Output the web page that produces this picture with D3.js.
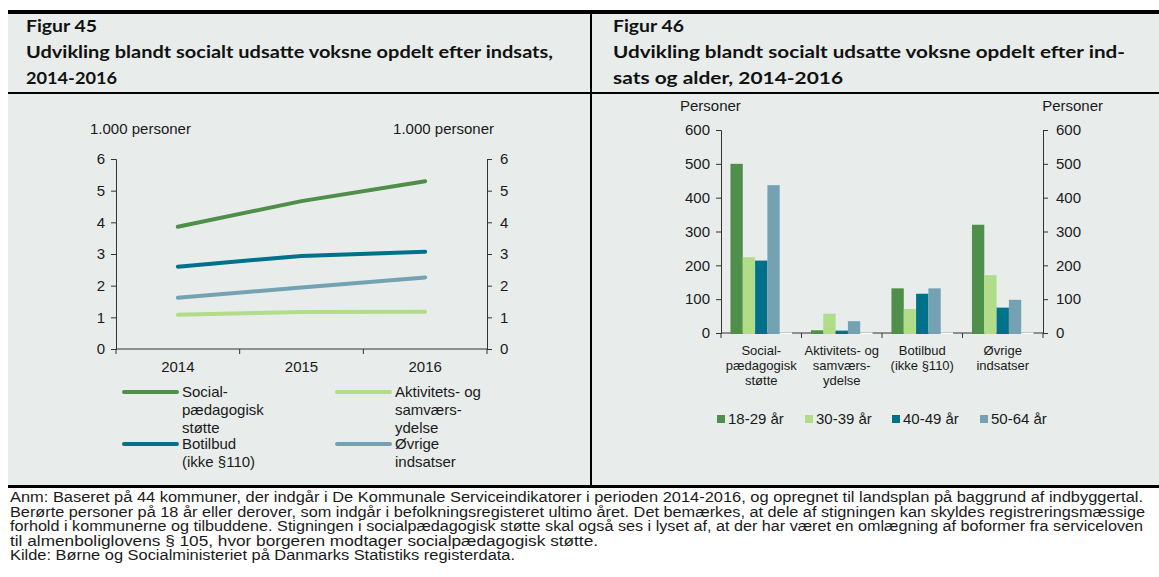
<!DOCTYPE html>
<html>
<head>
<meta charset="utf-8">
<script src="https://cdn.jsdelivr.net/npm/d3@7"></script>
<style>
  html, body { margin: 0; padding: 0; background: #fff; }
  svg { display: block; }
  .tick text, .lbl { font-family: "Liberation Sans", Arial, sans-serif; fill: #1a1a1a; }
  .ttl { font-family: Lato, "Open Sans", sans-serif; font-weight: 700; fill: #111; }
</style>
</head>
<body>
<svg id="c" width="1159" height="577"></svg>
<script>
// ---- Figur 45: persons (1.000) by type of support, 2014-2016
const years = ["2014", "2015", "2016"];
const lineNames = [["Social-", "pædagogisk", "støtte"], ["Aktivitets- og", "samværs-", "ydelse"], ["Botilbud", "(ikke §110)"], ["Øvrige", "indsatser"]];
const socialpaedagogisk = [3.86, 4.67, 5.30];
const aktivitetSamvaer = [1.08, 1.17, 1.18];
const botilbud = [2.60, 2.94, 3.07];
const oevrigeIndsatser = [1.62, 1.94, 2.26];
const leftTicks = [0, 1, 2, 3, 4, 5, 6];

// ---- Figur 46: persons by type of support and age
const categories = [["Social-", "pædagogisk", "støtte"], ["Aktivitets- og", "samværs-", "ydelse"], ["Botilbud", "(ikke §110)"], ["Øvrige", "indsatser"]];
const ageGroups = ["18-29 år", "30-39 år", "40-49 år", "50-64 år"];
const age18to29 = [500, 8, 132, 320];
const age30to39 = [224, 57, 71, 171];
const age40to49 = [214, 7, 116, 75];
const age50to64 = [437, 35, 132, 98];
const barTicks = [0, 100, 200, 300, 400, 500, 600];

const colors = ["#4f8e4b", "#b1dc88", "#00718a", "#74a2b3"];
const axisColor = "#333";

const svg = d3.select("#c");

// panel background and frame
svg.append("rect").attr("x", 8).attr("y", 12).attr("width", 1151).attr("height", 475).attr("fill", "#e8edeb");
svg.append("rect").attr("x", 8).attr("y", 10).attr("width", 1151).attr("height", 4).attr("fill", "#000");
svg.append("rect").attr("x", 8).attr("y", 92).attr("width", 1151).attr("height", 2).attr("fill", "#000");
svg.append("rect").attr("x", 8).attr("y", 485).attr("width", 1151).attr("height", 3).attr("fill", "#000");
svg.append("rect").attr("x", 590).attr("y", 12).attr("width", 2).attr("height", 475).attr("fill", "#000");

// titles
function title(x, lines, widths) {
  lines.forEach((t, i) => {
    svg.append("text").attr("class", "ttl").attr("x", x).attr("y", 32 + i * 26)
      .style("font-size", "17px").attr("textLength", widths[i]).attr("lengthAdjust", "spacingAndGlyphs").text(t);
  });
}
title(26, ["Figur 45", "Udvikling blandt socialt udsatte voksne opdelt efter indsats,", "2014-2016"], [71, 527, 91]);
title(613, ["Figur 46", "Udvikling blandt socialt udsatte voksne opdelt efter ind-", "sats og alder, 2014-2016"], [71, 512, 230]);

// ===== line chart =====
const x = d3.scaleBand().domain(years).range([116, 487]);
const y = d3.scaleLinear().domain([0, 6]).range([349, 159]);
const intFmt = d3.format("d");

function styleAxis(g) {
  g.select(".domain").attr("stroke", axisColor);
  g.selectAll(".tick line").attr("stroke", axisColor);
  g.selectAll(".tick text").style("font-size", "15px");
}

svg.append("g").attr("transform", "translate(116,0)")
  .call(d3.axisLeft(y).tickValues(leftTicks).tickFormat(intFmt).tickSize(5).tickPadding(6).tickSizeOuter(5))
  .call(styleAxis);
svg.append("g").attr("transform", "translate(487,0)")
  .call(d3.axisRight(y).tickValues(leftTicks).tickFormat(intFmt).tickSize(5).tickPadding(8).tickSizeOuter(5))
  .call(styleAxis);

// category axis with ticks at band boundaries
const xb = svg.append("g").attr("transform", "translate(0,349)");
xb.append("line").attr("x1", 116).attr("x2", 487).attr("stroke", axisColor);
years.concat([null]).forEach(d => {
  const px = d === null ? x.range()[1] : x(d);
  xb.append("line").attr("x1", px).attr("x2", px).attr("y1", 0).attr("y2", 5).attr("stroke", axisColor);
});
years.forEach(d => {
  xb.append("text").attr("class", "lbl").attr("x", x(d) + x.bandwidth() / 2).attr("y", 23)
    .attr("text-anchor", "middle").style("font-size", "15px").text(d);
});

const lineSeries = [socialpaedagogisk, aktivitetSamvaer, botilbud, oevrigeIndsatser];
const lineGen = d3.line().x((d, i) => x(years[i]) + x.bandwidth() / 2).y(d => y(d));
// draw order so the dark lines sit on top
[3, 1, 2, 0].forEach(k => {
  svg.append("path").datum(lineSeries[k]).attr("d", lineGen).attr("fill", "none")
    .attr("stroke", colors[k]).attr("stroke-width", 4).attr("stroke-linecap", "round");
});

// line legend
const legPos = [[124, 392], [337, 392], [124, 444], [337, 444]];
lineNames.forEach((lines, k) => {
  const [lx, ly] = legPos[k];
  svg.append("line").attr("x1", lx).attr("x2", lx + 53).attr("y1", ly).attr("y2", ly)
    .attr("stroke", colors[k]).attr("stroke-width", 4).attr("stroke-linecap", "round");
  lines.forEach((t, j) => {
    svg.append("text").attr("class", "lbl").attr("x", lx + 58).attr("y", ly + 5 + j * 18)
      .style("font-size", "15px").text(t);
  });
});

// axis captions
svg.append("text").attr("class", "lbl").attr("x", 90).attr("y", 134).style("font-size", "15px").text("1.000 personer");
svg.append("text").attr("class", "lbl").attr("x", 494).attr("y", 134).attr("text-anchor", "end").style("font-size", "15px").text("1.000 personer");

// ===== bar chart =====
const catKeys = categories.map((c, i) => i);
const bx = d3.scaleBand().domain(catKeys).range([721, 1043]);
const slots = d3.range(5); // four age groups plus an empty fifth slot
const bi = d3.scaleBand().domain(slots).range([0, bx.bandwidth()]).paddingOuter(0.77);
const by = d3.scaleLinear().domain([0, 600]).range([333, 130]);

svg.append("g").attr("transform", "translate(721,0)")
  .call(d3.axisLeft(by).tickValues(barTicks).tickSize(5).tickPadding(6).tickSizeOuter(5))
  .call(styleAxis);
svg.append("g").attr("transform", "translate(1043,0)")
  .call(d3.axisRight(by).tickValues(barTicks).tickSize(5).tickPadding(8).tickSizeOuter(5))
  .call(styleAxis);

const bxa = svg.append("g").attr("transform", "translate(0,333)");
bxa.append("line").attr("x1", 721).attr("x2", 1043).attr("stroke", axisColor);
catKeys.concat([null]).forEach(d => {
  const px = d === null ? bx.range()[1] : bx(d);
  bxa.append("line").attr("x1", px).attr("x2", px).attr("y1", 0).attr("y2", 5).attr("stroke", axisColor);
});
categories.forEach((lines, i) => {
  lines.forEach((t, j) => {
    bxa.append("text").attr("class", "lbl").attr("x", bx(i) + bx.bandwidth() / 2).attr("y", 22 + j * 15)
      .attr("text-anchor", "middle").style("font-size", "13px").text(t);
  });
});

const barSeries = [age18to29, age30to39, age40to49, age50to64];
barSeries.forEach((vals, k) => {
  svg.append("g").selectAll("rect").data(vals).join("rect")
    .attr("x", (d, i) => bx(i) + bi(k))
    .attr("y", d => by(d))
    .attr("width", bi.bandwidth())
    .attr("height", d => by(0) - by(d) + 1)
    .attr("fill", colors[k]);
});
// empty fifth slot shows as a pale strip on the baseline
catKeys.forEach(i => {
  svg.append("rect").attr("x", bx(i) + bi(4)).attr("y", by(0) - 0.5).attr("width", bi.bandwidth()).attr("height", 1.5).attr("fill", "#fff");
});

svg.append("text").attr("class", "lbl").attr("x", 680).attr("y", 111).style("font-size", "15px").text("Personer");
svg.append("text").attr("class", "lbl").attr("x", 1103).attr("y", 111).attr("text-anchor", "end").style("font-size", "15px").text("Personer");

// bar legend
const legX = [717, 805, 892, 980];
ageGroups.forEach((g, k) => {
  svg.append("rect").attr("x", legX[k]).attr("y", 415).attr("width", 8).attr("height", 8).attr("fill", colors[k]);
  svg.append("text").attr("class", "lbl").attr("x", legX[k] + 11).attr("y", 424).style("font-size", "15px").text(g);
});

// ===== notes =====
const notes = [
  ["Anm:  Baseret på 44 kommuner, der indgår i De Kommunale Serviceindikatorer i perioden 2014-2016, og opregnet til landsplan på baggrund af indbyggertal.", 1133],
  ["Berørte personer på 18 år eller derover, som indgår i befolkningsregisteret ultimo året.  Det bemærkes, at dele af stigningen kan skyldes registreringsmæssige", 1135],
  ["forhold i kommunerne og tilbuddene. Stigningen i socialpædagogisk støtte skal også ses i lyset af, at der har været en omlægning af boformer fra serviceloven", 1133],
  ["til almenboliglovens § 105, hvor borgeren modtager socialpædagogisk støtte.", 588],
  ["Kilde: Børne og Socialministeriet på Danmarks Statistiks registerdata.", 505]
];
notes.forEach(([t, w], i) => {
  svg.append("text").attr("class", "lbl").attr("x", 10).attr("y", 502 + i * 14.6)
    .style("font-size", "14px").attr("textLength", w).attr("lengthAdjust", "spacingAndGlyphs").text(t);
});
</script>
</body>
</html>
